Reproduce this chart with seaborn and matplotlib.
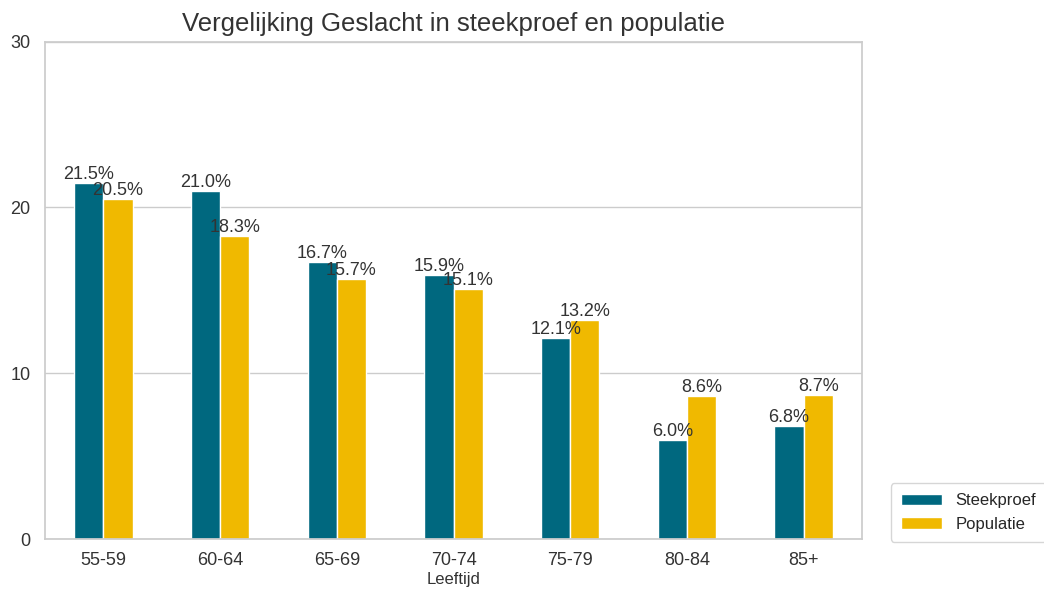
"""Vergelijking leeftijdsverdeling steekproef vs populatie"""

import pandas as pd
import matplotlib.pyplot as plt
import seaborn as sb

leeftijden = ["55-59", "60-64", "65-69", "70-74", "75-79", "80-84", "85+"]
steekproef = [21.5, 21.0, 16.7, 15.9, 12.1, 6.0, 6.8]
populatie = [20.5, 18.3, 15.7, 15.1, 13.2, 8.6, 8.7]

sb.set_theme(style="whitegrid")
plt.rcParams["font.family"] = ["Liberation Sans", "DejaVu Sans"]

df = pd.DataFrame({
    "Leeftijd": leeftijden * 2,
    "pct": steekproef + populatie,
    "groep": ["Steekproef"] * len(leeftijden) + ["Populatie"] * len(leeftijden),
})

fig = plt.figure(figsize=(10.44, 5.92), dpi=100)
ax = fig.add_axes([0.0431, 0.0895, 0.7826, 0.840])

sb.barplot(data=df, x="Leeftijd", y="pct", hue="groep", width=0.5,
           palette=["#00687F", "#F0B900"], saturation=1,
           edgecolor="white", linewidth=1, ax=ax)

# percentage labels on top of each bar
for cont in ax.containers:
    ax.bar_label(cont, fmt="%.1f%%", fontsize=13, color="#333333", padding=0)

ax.set_ylim(0, 30)
ax.set_yticks([0, 10, 20, 30])
ax.set_ylabel("")
ax.set_xlabel("Leeftijd", fontsize=12, color="#333333", labelpad=2)
ax.tick_params(axis="both", labelsize=13, colors="#333333")
ax.tick_params(axis="y", pad=4.5)
ax.set_title("Vergelijking Geslacht in steekproef en populatie", fontsize=18.5, color="#333333", pad=8)

ax.legend(loc="lower left", bbox_to_anchor=(0.853, 0.085), bbox_transform=fig.transFigure,
          fontsize=12, frameon=True, handlelength=2.5, borderpad=0.6, borderaxespad=0)

plt.savefig("out.png", dpi=100)
plt.close()
